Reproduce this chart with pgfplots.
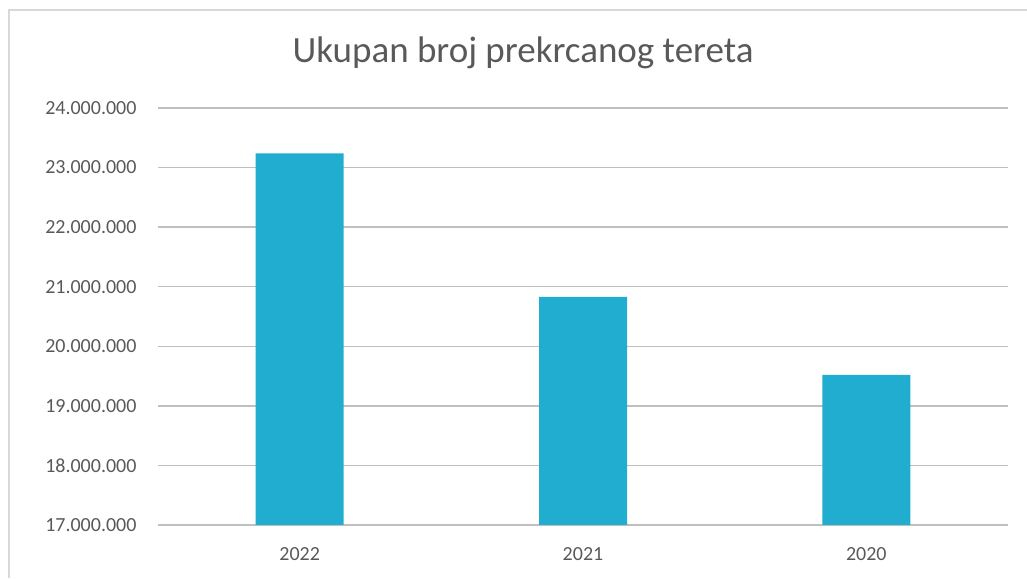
\documentclass[border=0pt]{standalone}
\usepackage{pgfplots}
\pgfplotsset{compat=1.18}
\usepackage{fontspec}
\setmainfont{Carlito}
\definecolor{barc}{RGB}{32,173,207}
\definecolor{txt}{RGB}{89,89,89}
\definecolor{grid}{RGB}{217,217,217}
\begin{document}
\begin{tikzpicture}[x=1pt,y=1pt]
\useasboundingbox (0,0) rectangle (1027,578);
\draw[grid,line width=1.5pt] (9,0) -- (9,568) -- (1027,568);
\node[txt,anchor=base,font=\fontsize{37}{42}\selectfont] at (523,515) {Ukupan broj prekrcanog tereta};
\begin{axis}[
  at={(158pt,53pt)}, anchor=south west,
  scale only axis, width=850pt, height=417pt,
  xmin=-0.5, xmax=2.5, ymin=17000000, ymax=24000000,
  xtick={0,1,2}, xticklabels={2022,2021,2020},
  ytick={17000000,18000000,19000000,20000000,21000000,22000000,23000000,24000000},
  yticklabels={17.000.000,18.000.000,19.000.000,20.000.000,21.000.000,22.000.000,23.000.000,24.000.000},
  scaled y ticks=false,
  xmajorgrids=false, ymajorgrids=true,
  grid style={grid,line width=1.3pt},
  axis line style={draw=none},
  axis x line*=bottom,
  x axis line style={grid,line width=1.3pt},
  xtick style={draw=none}, ytick style={draw=none},
  major tick length=0pt,
  tick label style={txt,font=\fontsize{20}{24}\selectfont},
  yticklabel style={xshift=-18pt},
  xticklabel style={yshift=-19pt},
  bar width=88pt,
]
\addplot[ybar, fill=barc, draw=none] coordinates {(0,23240000) (1,20830000) (2,19520000)};
\end{axis}
\end{tikzpicture}
\end{document}
